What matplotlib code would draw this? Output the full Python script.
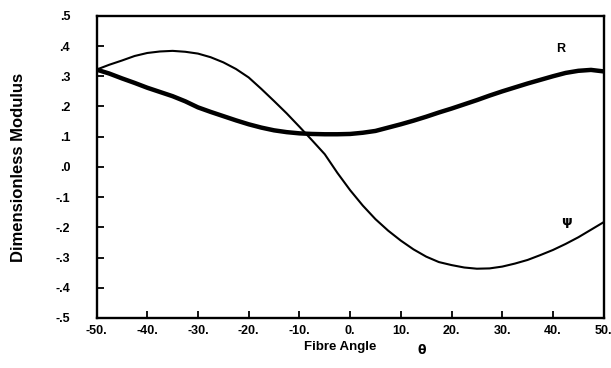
import matplotlib
matplotlib.use("Agg")
import matplotlib.pyplot as plt

angle = [-50, -47.5, -45, -42.5, -40, -37.5, -35, -32.5, -30, -27.5, -25, -22.5, -20, -17.5,
         -15, -12.5, -10, -7.5, -5, -2.5, 0, 2.5, 5, 7.5, 10, 12.5, 15, 17.5, 20, 22.5, 25,
         27.5, 30, 32.5, 35, 37.5, 40, 42.5, 45, 47.5, 50]
psi = [0.322, 0.338, 0.352, 0.367, 0.377, 0.382, 0.384, 0.381, 0.375, 0.363, 0.346, 0.324,
       0.296, 0.258, 0.218, 0.177, 0.133, 0.088, 0.042, -0.020, -0.077, -0.128, -0.173,
       -0.211, -0.244, -0.273, -0.297, -0.315, -0.325, -0.333, -0.337, -0.336, -0.330,
       -0.320, -0.308, -0.292, -0.275, -0.255, -0.233, -0.208, -0.183]
R = [0.322, 0.309, 0.293, 0.278, 0.262, 0.248, 0.234, 0.217, 0.197, 0.182, 0.168, 0.154,
     0.141, 0.130, 0.121, 0.115, 0.111, 0.109, 0.108, 0.108, 0.109, 0.113, 0.119, 0.130,
     0.141, 0.153, 0.166, 0.180, 0.193, 0.207, 0.221, 0.236, 0.250, 0.263, 0.276, 0.288,
     0.300, 0.311, 0.318, 0.321, 0.316]
xticks = [-50, -40, -30, -20, -10, 0, 10, 20, 30, 40, 50]
xticklabels = ["-50.", "-40.", "-30.", "-20.", "-10.", "0.", "10.", "20.", "30.", "40.", "50."]
yticks = [0.5, 0.4, 0.3, 0.2, 0.1, 0.0, -0.1, -0.2, -0.3, -0.4, -0.5]
yticklabels = [".5", ".4", ".3", ".2", ".1", ".0", "-.1", "-.2", "-.3", "-.4", "-.5"]

plt.rcParams['font.family'] = ['Liberation Sans', 'DejaVu Sans']

fig = plt.figure(figsize=(6.11, 3.68), dpi=100)
ax = fig.add_axes([0.158, 0.136, 0.830, 0.821])

ax.plot(angle, psi, color='black', lw=1.5, solid_capstyle='round', solid_joinstyle='round')
ax.plot(angle, R, color='black', lw=3.2, solid_capstyle='round', solid_joinstyle='round')

ax.set_xlim(-50, 50)
ax.set_ylim(-0.5, 0.5)
ax.set_xticks(xticks)
ax.set_xticklabels(xticklabels, fontsize=9, fontweight='bold')
ax.set_yticks(yticks)
ax.set_yticklabels(yticklabels, fontsize=9, fontweight='bold')
ax.tick_params(axis='x', direction='in', length=5, width=1.3, pad=5)
ax.tick_params(axis='y', direction='in', length=5, width=1.3, pad=19)
for s in ax.spines.values():
    s.set_linewidth(1.7)

ax.text(41.5, 0.39, "R", fontsize=9, fontweight='bold', ha='center', va='center')
ax.text(42.6, -0.18, "ψ", fontsize=9.5, fontweight='bold', ha='center', va='center',
        family=['DejaVu Sans'])

fig.text(19 / 611, 1 - 167 / 368, "Dimensionless Modulus", rotation=90, fontsize=12,
         fontweight='bold', ha='center', va='center')
fig.text(340 / 611, 1 - 347 / 368, "Fibre Angle", fontsize=9.5, fontweight='bold',
         ha='center', va='center')
fig.text(422 / 611, 1 - 351 / 368, "θ", fontsize=9, fontweight='bold',
         ha='center', va='center', family=['DejaVu Sans'])

fig.savefig("out.png", dpi=100)
